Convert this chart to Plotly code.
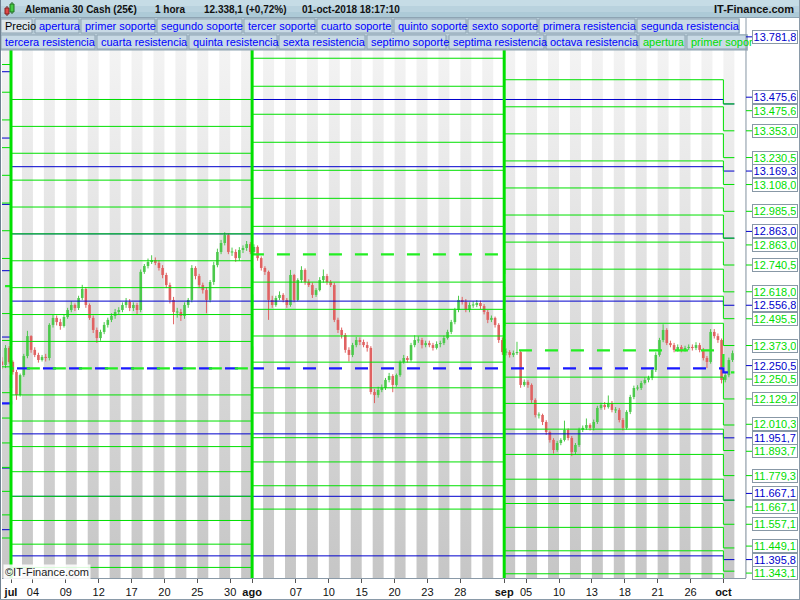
import plotly.graph_objects as go

# ---------------- data ----------------
first_open = 12300.0
bars_per_day = 3
first_day = -1  # 29-jun (trading-day index, 0 = 02-jul)
bar_closes = [
    12284, 12362, 12298,   12252, 12147, 12238,   12325, 12416, 12353,   12330, 12307, 12321,
    12316, 12467, 12499,   12480, 12462, 12503,   12535, 12558, 12544,   12590, 12631, 12558,
    12499, 12444, 12407,   12435, 12467, 12490,   12508, 12526, 12535,   12558, 12572, 12544,
    12558, 12535, 12709,   12736, 12754, 12763,   12750, 12727, 12695,   12649, 12581, 12526,
    12526, 12508, 12558,   12581, 12727, 12690,   12649, 12626, 12581,   12663, 12740, 12800,
    12841, 12877, 12800,   12800, 12772, 12809,   12818, 12836, 12800,   12823, 12772, 12727,
    12709, 12581, 12558,   12590, 12604, 12581,   12558, 12695, 12581,   12672, 12718, 12663,
    12649, 12604, 12626,   12672, 12690, 12663,   12649, 12490, 12444,   12421, 12353, 12330,
    12375, 12398, 12389,   12375, 12362, 12161,   12147, 12170, 12179,   12216, 12234, 12193,
    12238, 12298, 12316,   12307, 12375, 12398,   12398, 12375, 12384,   12375, 12362, 12380,
    12384, 12407, 12435,   12480, 12535, 12581,   12572, 12535, 12558,   12558, 12567, 12553,
    12526, 12490, 12499,   12467, 12398, 12343,   12343, 12330, 12339,   12343, 12193, 12207,
    12193, 12124, 12056,   12056, 12024, 11978,   11942, 11896, 11928,   11942, 11988, 11951,
    11887, 11919, 11988,   11997, 12010, 11997,   12024, 12088, 12102,   12092, 12111, 12079,
    12079, 12033, 11997,   12070, 12138, 12179,   12179, 12202, 12216,   12225, 12261, 12330,
    12398, 12444, 12384,   12375, 12353, 12366,   12353, 12362, 12366,   12362, 12375, 12353,
    12316, 12298, 12435,   12416, 12398, 12216,   12238, 12307, 12338.1,
]
bar_highs = [
    12320, 12375, 12370,   12305, 12262, 12245,   12335, 12440, 12420,   12365, 12340, 12330,
    12335, 12475, 12515,   12510, 12495, 12515,   12545, 12575, 12565,   12600, 12650, 12640,
    12565, 12510, 12455,   12445, 12480, 12500,   12520, 12540, 12548,   12570, 12590, 12585,
    12570, 12568, 12720,   12745, 12770, 12785,   12775, 12762, 12740,   12705, 12660, 12595,
    12545, 12540, 12570,   12590, 12740, 12735,   12700, 12660, 12640,   12672, 12755, 12815,
    12855, 12890, 12885,   12820, 12812, 12822,   12830, 12850, 12845,   12835, 12830, 12780,
    12735, 12715, 12600,   12600, 12620, 12612,   12590, 12718, 12700,   12680, 12735, 12725,
    12675, 12660, 12635,   12685, 12720, 12700,   12672, 12660, 12500,   12455, 12430, 12365,
    12385, 12412, 12410,   12400, 12390, 12370,   12175, 12185, 12195,   12225, 12248, 12242,
    12245, 12305, 12330,   12325, 12385, 12420,   12415, 12408, 12395,   12395, 12385, 12392,
    12395, 12418, 12445,   12490, 12545, 12600,   12595, 12585, 12570,   12575, 12580, 12578,
    12562, 12535, 12510,   12505, 12475, 12410,   12360, 12352, 12350,   12390, 12350, 12218,
    12215, 12200, 12132,   12068, 12062, 12032,   11985, 11950, 11938,   11950, 12030, 11995,
    11960, 11928, 11998,   12008, 12040, 12018,   12035, 12098, 12112,   12115, 12145, 12120,
    12092, 12088, 12042,   12078, 12148, 12190,   12192, 12212, 12228,   12235, 12272, 12342,
    12408, 12470, 12452,   12395, 12385, 12378,   12375, 12372, 12378,   12378, 12388, 12385,
    12362, 12325, 12448,   12448, 12428, 12405,   12250, 12318, 12350,
]
bar_lows = [
    12265, 12270, 12290,   12240, 12125, 12140,   12230, 12315, 12340,   12320, 12295, 12300,
    12300, 12305, 12455,   12465, 12445, 12455,   12495, 12525, 12530,   12535, 12580, 12545,
    12490, 12430, 12385,   12395, 12425, 12455,   12480, 12495, 12515,   12525, 12545, 12530,
    12530, 12515, 12525,   12700, 12725, 12745,   12740, 12715, 12680,   12635, 12565, 12470,
    12500, 12485, 12495,   12545, 12570, 12675,   12635, 12610, 12520,   12570, 12650, 12730,
    12790, 12830, 12790,   12782, 12755, 12760,   12795, 12805, 12790,   12790, 12760, 12715,
    12695, 12490, 12545,   12550, 12580, 12570,   12545, 12550, 12570,   12575, 12660, 12650,
    12640, 12590, 12595,   12620, 12660, 12650,   12640, 12480, 12430,   12405, 12340, 12300,
    12320, 12365, 12375,   12365, 12345, 12150,   12110, 12135, 12160,   12170, 12205, 12160,
    12185, 12230, 12290,   12295, 12300, 12365,   12385, 12360, 12365,   12365, 12350, 12355,
    12365, 12375, 12400,   12425, 12470, 12525,   12560, 12525, 12525,   12545, 12548, 12540,
    12515, 12475, 12480,   12455, 12385, 12330,   12328, 12318, 12320,   12330, 12180, 12185,
    12180, 12110, 12045,   12040, 12010, 11965,   11930, 11880, 11888,   11918, 11935, 11940,
    11868, 11875, 11910,   11978, 11988, 11985,   11985, 12015, 12080,   12080, 12085, 12068,
    12065, 12022, 11985,   11990, 12060, 12128,   12168, 12170, 12195,   12205, 12215, 12252,
    12322, 12388, 12375,   12365, 12342, 12345,   12342, 12345, 12352,   12350, 12352, 12342,
    12305, 12270, 12290,   12405, 12385, 12200,   12205, 12228, 12298,
]

tick_days = [0, 2, 5, 8, 11, 14, 17, 20, 22, 26, 29, 32, 35, 38, 41, 45, 47, 50, 53, 56, 59, 62, 65]
tick_text = ["<b>jul</b>", "04", "09", "12", "17", "20", "25", "30", "<b>ago</b>", "07", "10", "15",
             "20", "23", "28", "<b>sep</b>", "05", "10", "13", "18", "21", "26", "<b>oct</b>"]

# monthly levels (green): jun, jul, ago, sep, oct
month_start = [-1, 0, 22, 45, 65]
month_end = [0, 22, 45, 65, 66]
g_open = [12644.0, 12269.0, 12789.0, 12351.0, 12250.5]
g_res_jun = [12770.4, 12896.9, 13023.3, 13149.8, 13276.2, 13402.6, 13529.1, 13655.5, 13782.0, 13908.4]
g_sup_jun = [12518.8, 12396.1, 12275.7, 12157.7, 12041.9, 11928.3, 11816.8, 11707.4, 11600.0, 11494.5]
g_res_jul = [12391.7, 12514.4, 12637.1, 12759.8, 12882.5, 13005.1, 13127.8, 13250.5, 13373.2, 13495.9]
g_sup_jul = [12147.5, 12028.4, 11911.7, 11797.1, 11684.8, 11574.5, 11466.4, 11360.2, 11256.0, 11153.6]
g_res_ago = [12916.9, 13044.8, 13172.7, 13300.6, 13428.5, 13556.3, 13684.2, 13812.1, 13940.0, 14067.9]
g_sup_ago = [12662.4, 12538.2, 12416.5, 12297.1, 12180.0, 12065.1, 11952.3, 11841.7, 11733.0, 11626.4]
g_res_sep = [12474.5, 12598.0, 12721.5, 12845.0, 12968.6, 13092.1, 13215.6, 13339.1, 13462.6, 13586.1]
g_sup_sep = [12228.7, 12108.8, 11991.3, 11876.0, 11762.9, 11651.9, 11543.0, 11436.1, 11331.2, 11228.2]
g_res_oct = [12373.0, 12495.5, 12618.0, 12740.5, 12863.0, 12985.5, 13108.0, 13230.5, 13353.0, 13475.6]
g_sup_oct = [12129.2, 12010.3, 11893.7, 11779.3, 11667.1, 11557.1, 11449.1, 11343.1, 11239.0, 11136.8]

# quarterly levels (blue): q2, q3, q4
q_start = [-1, 0, 65]
q_end = [0, 65, 66]
b_open = [12109.0, 12269.0, 12250.5]
b_res_q2 = [12411.7, 12714.5, 13017.2, 13319.9, 13622.6]
b_sup_q2 = [11813.7, 11532.4, 11264.2, 11008.2]
b_res_q3 = [12575.7, 12882.5, 13189.2, 13495.9, 13802.6]
b_sup_q3 = [11969.8, 11684.8, 11413.0, 11153.6]
b_res_q4 = [12556.8, 12863.0, 13169.3, 13475.6, 13781.8]
b_sup_q4 = [11951.7, 11667.1, 11395.8, 11136.8]

thick_boundaries = [0, 22, 45]

legend_row1 = ["Precio", "apertura", "primer soporte", "segundo soporte", "tercer soporte",
               "cuarto soporte", "quinto soporte", "sexto soporte", "primera resistencia",
               "segunda resistencia"]
legend_row2 = ["tercera resistencia", "cuarta resistencia", "quinta resistencia", "sexta resistencia",
               "septimo soporte", "septima resistencia", "octava resistencia", "apertura", "primer sopor"]
title_parts = ["Alemania 30 Cash (25€)", "1 hora", "12.338,1 (+0,72%)", "01-oct-2018 18:17:10"]
brand = "IT-Finance.com"
copyright_text = "©IT-Finance.com"

# ---------------- layout constants ----------------
W, H = 800, 600
PL, PR, PT, PB = 2, 746, 18, 578
X0_PX, DAY_PX = 11.0, 10.96
Y_REF_V, Y_REF_PX, PX_PER_PT = 12740.5, 265.0, 0.2191
x_min = (PL - X0_PX) / DAY_PX
x_max = (PR - X0_PX) / DAY_PX
y_min = Y_REF_V - (PB - Y_REF_PX) / PX_PER_PT
y_max = Y_REF_V + (Y_REF_PX - PT) / PX_PER_PT
y_vis_top = Y_REF_V + (Y_REF_PX - 50) / PX_PER_PT

GREEN = "#00e000"
BLUE = "#0000cc"
LBLUE = "#0000ff"
UP = "#4cc94c"
DN = "#e06262"
FONT = "Liberation Sans, Arial, sans-serif"
MIN_BODY = 5.0  # minimum body height in price points so thin bodies stay visible


def PX(x):
    return (x - PL) / (PR - PL)


def PY(y):
    return (PB - y) / (PB - PT)


def ypix(v):
    return PB - (v - y_min) / (y_max - y_min) * (PB - PT)


fig = go.Figure()

# background day stripes
sx, sy = [], []
for d in range(first_day, int(x_max) + 2):
    if d % 2 != 0:
        sx += [d, d + 1, d + 1, d, d, None]
        sy += [y_min, y_min, y_max, y_max, y_min, None]
fig.add_trace(go.Scatter(
    x=sx, y=sy, mode="lines", line=dict(width=0), fill="toself", fillcolor="#dddddd",
    fillgradient=dict(type="vertical", colorscale=[[0, "#c6c6c6"], [1, "#f3f3f3"]],
                      start=y_min, stop=y_vis_top),
    hoverinfo="skip", showlegend=False))

# candles (open = previous close), drawn as vertical segments
opens = [first_open] + bar_closes[:-1]
segs = {"up": ([], [], [], []), "dn": ([], [], [], [])}
for i, (o, c, hi_, lo_) in enumerate(zip(opens, bar_closes, bar_highs, bar_lows)):
    xv = first_day + (i + 0.5) / bars_per_day
    lo, hi = min(o, c), max(o, c)
    if hi - lo < MIN_BODY:
        mid = (hi + lo) / 2
        lo, hi = mid - MIN_BODY / 2, mid + MIN_BODY / 2
    wx, wy, bxs, bys = segs["up" if c >= o else "dn"]
    wx += [xv, xv, None]
    wy += [min(lo_, lo), max(hi_, hi), None]
    bxs += [xv, xv, None]
    bys += [lo, hi, None]
for key, col in (("up", UP), ("dn", DN)):
    wx, wy, _, _ = segs[key]
    fig.add_trace(go.Scatter(x=wx, y=wy, mode="lines", line=dict(color=col, width=1),
                             hoverinfo="skip", showlegend=False))
for key, col in (("up", UP), ("dn", DN)):
    _, _, bxs, bys = segs[key]
    fig.add_trace(go.Scatter(x=bxs, y=bys, mode="lines", line=dict(color=col, width=2.6),
                             hoverinfo="skip", showlegend=False))


def add_level(starts, ends, values, color, width=1, dash="solid"):
    xs, ys = [], []
    for s, e, v in zip(starts, ends, values):
        xs += [s, e]
        ys += [v, v]
    fig.add_trace(go.Scatter(x=xs, y=ys, mode="lines",
                             line=dict(color=color, width=width, dash=dash),
                             hoverinfo="skip", showlegend=False))


# blue quarterly levels
for k in range(len(b_res_q3)):
    add_level(q_start, q_end, [b_res_q2[k], b_res_q3[k], b_res_q4[k]], BLUE)
for k in range(len(b_sup_q3)):
    add_level(q_start, q_end, [b_sup_q2[k], b_sup_q3[k], b_sup_q4[k]], BLUE)
add_level(q_start, q_end, b_open, "#1a1aff", width=2.2, dash="13px,13px")

# green monthly levels
g_res = [g_res_jun, g_res_jul, g_res_ago, g_res_sep, g_res_oct]
g_sup = [g_sup_jun, g_sup_jul, g_sup_ago, g_sup_sep, g_sup_oct]
for k in range(10):
    add_level(month_start, month_end, [m[k] for m in g_res], GREEN)
    add_level(month_start, month_end, [m[k] for m in g_sup], GREEN)
add_level(month_start, month_end, g_open, "#22ee22", width=2.2, dash="0px,5px,13px,8px")

# month boundaries
bx, by = [], []
for b in thick_boundaries:
    bx += [b, b, None]
    by += [y_min, y_max, None]
fig.add_trace(go.Scatter(x=bx, y=by, mode="lines", line=dict(color=GREEN, width=3),
                         hoverinfo="skip", showlegend=False))

shapes = []
annotations = []


def rect(x0, y0, x1, y1, fill, line=None, lw=1):
    shapes.append(dict(type="rect", xref="paper", yref="paper", x0=PX(x0), x1=PX(x1),
                       y0=PY(y1), y1=PY(y0), fillcolor=fill, layer="above",
                       line=dict(color=line if line else fill, width=lw if line else 0)))


def hline(x0, x1, y, color, w=1):
    shapes.append(dict(type="line", xref="paper", yref="paper", x0=PX(x0), x1=PX(x1),
                       y0=PY(y), y1=PY(y), line=dict(color=color, width=w), layer="above"))


def vline(x, y0, y1, color, w=1):
    shapes.append(dict(type="line", xref="paper", yref="paper", x0=PX(x), x1=PX(x),
                       y0=PY(y0), y1=PY(y1), line=dict(color=color, width=w), layer="above"))


def text(x, y, s, color="#000", size=11, bold=False, anchor="left", bg=None):
    a = dict(xref="paper", yref="paper", x=PX(x), y=PY(y), text=f"<b>{s}</b>" if bold else s,
             showarrow=False, xanchor=anchor, yanchor="middle",
             font=dict(family=FONT, size=size, color=color))
    if bg:
        a["bgcolor"] = bg
    annotations.append(a)


# title bar
rect(0, 0, 800, 6, "#c6dce6")
rect(0, 6, 800, 12, "#b9d2de")
rect(0, 12, 800, 18, "#adcad7")
hline(0, 800, 17.5, "#8ea4b3")
# icon
vline(7, 6, 16, "#6a2020"); rect(5, 8, 9, 14, "#e04848", "#802020")
vline(12, 2, 14, "#206a20"); rect(10, 4, 14, 12, "#44cc44", "#207020")
title_x = [23, 153, 202, 300]
for tx, s in zip(title_x, title_parts):
    text(tx, 9.5, s, "#111111", 10, bold=True)
text(796, 9.5, brand, "#111111", 11, bold=True, anchor="right")

# legend rows
rect(0, 18, 740, 34, "#b8ccd7")
rect(0, 34, 748, 50, "#b8ccd7")
rect(740, 18, 746, 34, "#ffffff")
row1_x = [(1, 33), (35, 80), (81, 156), (157, 243), (244, 316), (317, 393), (394, 467),
          (468, 538), (539, 636), (637, 740)]
row2_x = [(1, 96), (97, 188), (189, 278), (279, 366), (367, 447), (449, 545), (546, 638),
          (639, 686), (687, 748)]
for i, (name, (x0, x1)) in enumerate(zip(legend_row1, row1_x)):
    rect(x0, 19, x1 - 1, 33, "#dbe5eb" if i == 0 else "#c8dae5", "#8ea3b2")
    text(x0 + 2, 26.5, name, "#000000" if i == 0 else LBLUE, 11)
for i, (name, (x0, x1)) in enumerate(zip(legend_row2, row2_x)):
    rect(x0, 35, x1 - 1, 49, "#c8dae5", "#8ea3b2")
    text(x0 + 2, 42.5, name, "#00dd00" if i >= 7 else LBLUE, 11)
hline(0, 748, 50, "#8ea3b2")

# frame
vline(PR, 18, PB, "#8a9aa8")
vline(0.5, 0, 600, "#6f8191")
vline(799.5, 0, 600, "#8a9aa8")
hline(0, 800, 599.5, "#8a9aa8")

# right axis labels for the current (october) levels
labs = []
for v in [b_res_q4[4], b_res_q4[3], b_res_q4[2], b_res_q4[1], b_res_q4[0], b_open[2]] + b_sup_q4:
    if y_min <= v <= y_max:
        labs.append((ypix(v), 0, v, BLUE))
for v in g_res_oct + [g_open[4]] + g_sup_oct:
    if y_min <= v <= y_max:
        labs.append((ypix(v), 1, v, "#00dd00"))
labs.sort(key=lambda t: (t[0], t[1]))
HGT = 13.5
clusters = []
for lab in labs:
    clusters.append([lab])
    while len(clusters) > 1:
        a, b = clusters[-2], clusters[-1]
        ca = sum(t[0] for t in a) / len(a)
        cb = sum(t[0] for t in b) / len(b)
        if (cb - (len(b) - 1) / 2 * HGT) - (ca + (len(a) - 1) / 2 * HGT) < HGT:
            clusters[-2:] = [a + b]
        else:
            break


def fmt(v):
    s = f"{v:,.1f}"
    return s.replace(",", "X").replace(".", ",").replace("X", ".")


for cl in clusters:
    c = sum(t[0] for t in cl) / len(cl)
    for i, (py0, _, v, col) in enumerate(cl):
        py = c + (i - (len(cl) - 1) / 2) * HGT
        hline(PR, 752, py, col)
        annotations.append(dict(xref="paper", yref="paper", x=PX(752), y=PY(py), xanchor="left",
                                yanchor="middle", showarrow=False, text=fmt(v),
                                font=dict(family=FONT, size=11, color=col),
                                bgcolor="#ffffff", bordercolor="#8898a6", borderwidth=1,
                                borderpad=1, width=42, height=10, align="center"))

# copyright
text(3, 572, copyright_text, "#222222", 11, bg="rgba(255,255,255,0.85)")

fig.update_layout(
    width=W, height=H, margin=dict(l=PL, r=W - PR, t=PT, b=H - PB),
    paper_bgcolor="#ffffff", plot_bgcolor="#ffffff",
    hovermode=False, showlegend=False, shapes=shapes, annotations=annotations,
    xaxis=dict(range=[x_min, x_max], tickvals=tick_days, ticktext=tick_text, ticks="outside",
               ticklen=4, tickcolor="#555555", showgrid=False, zeroline=False, showline=True,
               linecolor="#8a9aa8", tickfont=dict(family=FONT, size=11, color="#111111"),
               fixedrange=True),
    yaxis=dict(range=[y_min, y_max], visible=False, fixedrange=True),
)
fig.write_html("out.html", config={"displayModeBar": False},
               post_script="document.body.style.margin='0px';document.body.style.overflow='hidden';")
